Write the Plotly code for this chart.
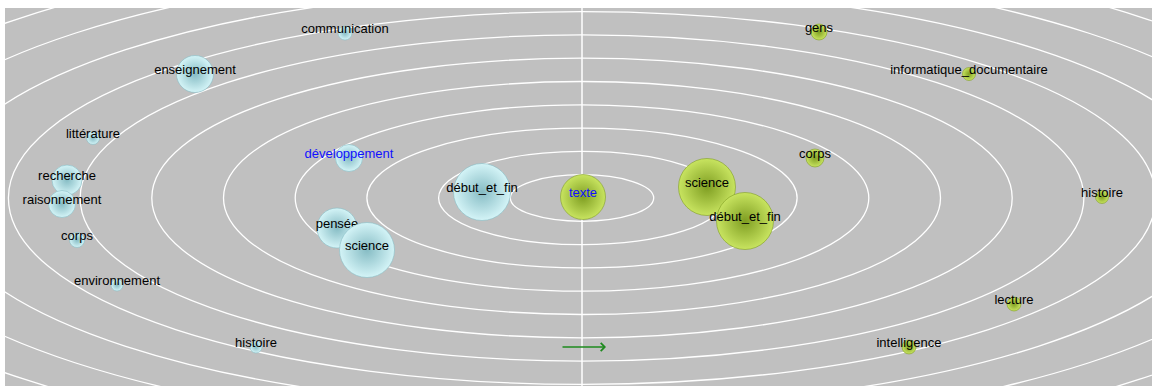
import plotly.graph_objects as go

# ---- data (centre of the chart = origin, 1 unit ~ 1 px) ----
left_labels = ["communication", "enseignement", "littérature", "recherche", "raisonnement",
               "corps", "environnement", "histoire", "développement", "pensée", "science",
               "début_et_fin"]
left_x = [-237, -387, -489, -515, -520, -505, -465, -326, -233, -245, -215, -100]
left_y = [165, 124, 60, 18, -6, -42, -87, -149, 40, -30, -52, 6]
left_size = [14, 37, 13, 30, 27, 15, 12, 12, 27, 40, 55, 57]

right_labels = ["gens", "informatique_documentaire", "corps", "histoire", "lecture",
                "intelligence", "texte", "science", "début_et_fin"]
right_x = [237, 387, 233, 520, 432, 327, 1, 125, 163]
right_y = [166, 124, 40, 1, -106, -149, 1, 11, -23]
right_size = [16, 13, 18, 13, 14, 14, 45, 57, 57]

highlight_labels = ["développement", "texte"]   # shown in blue

ring_count = 12
ring_step_x = 71.7
ring_step_y = 23.3

arrow_start = (-21, -149)
arrow_end = (24, -149)

# ---- styles ----
BG = "#c0c0c0"
BLUE_C, BLUE_E = "#d4f4f7", "#86bcc4"
GREEN_C, GREEN_E = "#c8e460", "#7f9e22"
FONT = "Liberation Sans, Arial, sans-serif"

fig = go.Figure()


def add_sphere(x, y, s, label, c, e):
    fig.add_trace(go.Scatter(
        x=[x], y=[y], mode="markers", hoverinfo="skip", showlegend=False,
        marker=dict(size=s, color=c, gradient=dict(type="radial", color=e),
                    line=dict(width=0.6, color=e))))
    fig.add_trace(go.Scatter(
        x=[x], y=[y + 3], mode="text", text=[label], textposition="middle center",
        hoverinfo="skip", showlegend=False,
        textfont=dict(family=FONT, size=13,
                      color="#1010ff" if label in highlight_labels else "#000000")))


for i in range(len(left_labels)):
    add_sphere(left_x[i], left_y[i], left_size[i], left_labels[i], BLUE_C, BLUE_E)
for i in range(len(right_labels)):
    add_sphere(right_x[i], right_y[i], right_size[i], right_labels[i], GREEN_C, GREEN_E)

shapes = []
for k in range(1, ring_count + 1):
    shapes.append(dict(type="circle", xref="x", yref="y", layer="below",
                       x0=-k * ring_step_x, x1=k * ring_step_x,
                       y0=-k * ring_step_y, y1=k * ring_step_y,
                       line=dict(color="white", width=1.3)))
shapes.append(dict(type="line", xref="x", yref="paper", layer="below",
                   x0=0, x1=0, y0=0, y1=1, line=dict(color="white", width=1.5)))

fig.add_annotation(x=arrow_end[0], y=arrow_end[1], ax=arrow_start[0], ay=arrow_start[1],
                   xref="x", yref="y", axref="x", ayref="y", text="", showarrow=True,
                   arrowhead=4, arrowsize=1.2, arrowwidth=1.3, arrowcolor="#1e8a1e")

fig.update_layout(
    width=1152, height=386,
    margin=dict(l=5, t=8, r=0, b=0),
    paper_bgcolor="white", plot_bgcolor=BG,
    shapes=shapes,
    xaxis=dict(range=[-577, 570], visible=False, fixedrange=True),
    yaxis=dict(range=[-188, 190], visible=False, fixedrange=True),
)

fig.write_html("out.html", config={"displayModeBar": False},
               post_script="document.body.style.margin='0';document.body.style.overflow='hidden';")
